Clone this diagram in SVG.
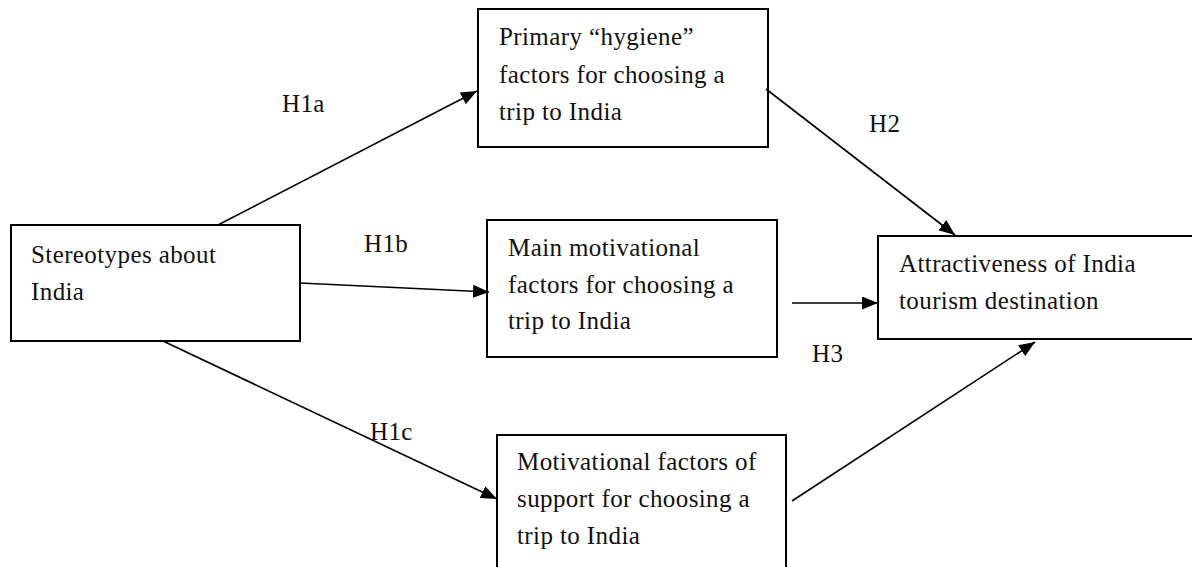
<svg xmlns="http://www.w3.org/2000/svg" width="1192" height="567" viewBox="0 0 1192 567">
<style>
.box{fill:#fff;stroke:#000;stroke-width:2}
.t{font-family:"Liberation Serif","Times New Roman",serif;font-size:25px;letter-spacing:0.4px;fill:#111}
.c{stroke:#000;stroke-width:1.6;fill:none;marker-end:url(#ah)}
</style>
<defs>
<marker id="ah" markerUnits="userSpaceOnUse" markerWidth="18" markerHeight="14" refX="16" refY="6.5" orient="auto">
<path d="M0,0 L16,6.5 L0,13 z" fill="#000"/>
</marker>
</defs>
<rect width="1192" height="567" fill="#fff"/>
<g id="node-primary">
<rect class="box" x="478" y="9" width="290" height="138"/>
<text class="t" x="499" y="45">Primary “hygiene”</text>
<text class="t" x="499" y="83">factors for choosing a</text>
<text class="t" x="499" y="120">trip to India</text>
</g>
<g id="node-stereotypes">
<rect class="box" x="11" y="225" width="289" height="116"/>
<text class="t" x="31" y="263">Stereotypes about</text>
<text class="t" x="31" y="300">India</text>
</g>
<g id="node-main">
<rect class="box" x="487" y="220" width="290" height="137"/>
<text class="t" x="508" y="256">Main motivational</text>
<text class="t" x="508" y="293">factors for choosing a</text>
<text class="t" x="508" y="329">trip to India</text>
</g>
<g id="node-attractiveness">
<rect class="box" x="878" y="236" width="330" height="103"/>
<text class="t" x="899" y="272">Attractiveness of India</text>
<text class="t" x="899" y="309">tourism destination</text>
</g>
<g id="node-support">
<rect class="box" x="497" y="435" width="289" height="150"/>
<text class="t" x="517" y="470">Motivational factors of</text>
<text class="t" x="517" y="507">support for choosing a</text>
<text class="t" x="517" y="544">trip to India</text>
</g>
<g id="connectors">
<line class="c" x1="218" y1="225" x2="477" y2="91"/>
<line class="c" x1="300" y1="283" x2="489" y2="292"/>
<line class="c" x1="163" y1="341" x2="497" y2="499"/>
<line class="c" x1="766" y1="89" x2="955" y2="235"/>
<line class="c" x1="792" y1="303" x2="878" y2="303"/>
<line class="c" x1="792" y1="501" x2="1035" y2="342"/>
</g>
<g id="labels">
<text class="t" x="282" y="112">H1a</text>
<text class="t" x="364" y="252">H1b</text>
<text class="t" x="370" y="440">H1c</text>
<text class="t" x="869" y="132">H2</text>
<text class="t" x="812" y="362">H3</text>
</g>
</svg>
